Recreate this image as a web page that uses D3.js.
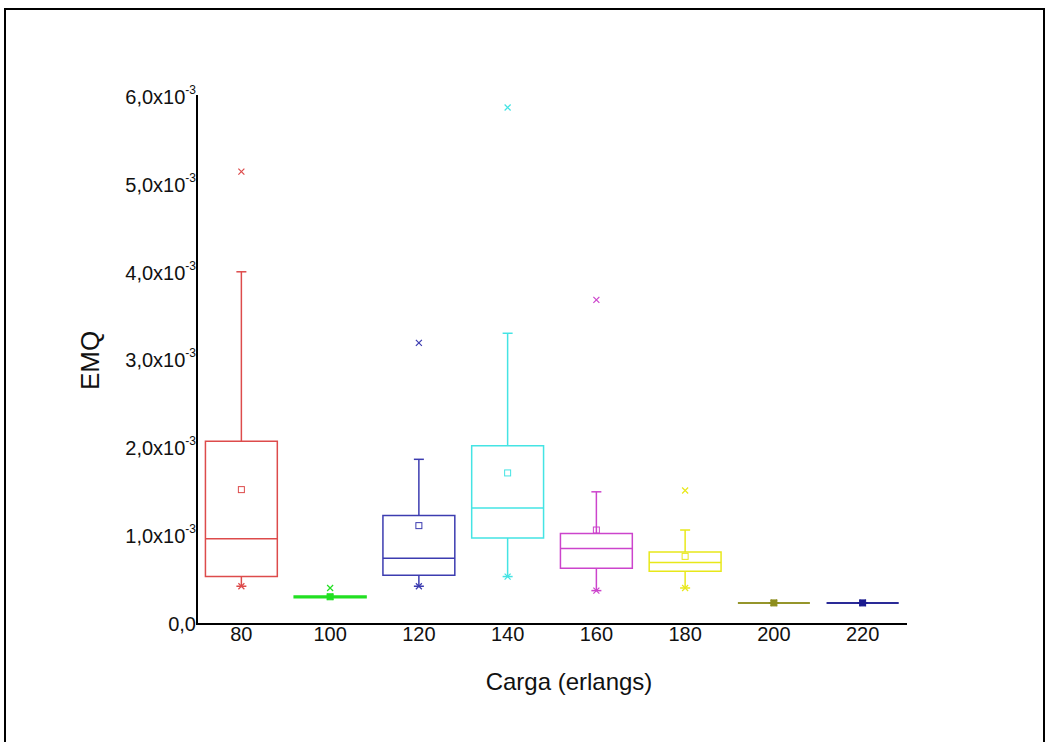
<!DOCTYPE html>
<html>
<head>
<meta charset="utf-8">
<script src="https://cdn.jsdelivr.net/npm/d3@7"></script>
<style>
  body { margin: 0; background: #fff; }
  svg { display: block; font-family: "Liberation Sans", Arial, sans-serif; }
</style>
</head>
<body>
<svg width="1048" height="742"></svg>
<script>
const svg = d3.select("svg");

// data (values in units of 1e-3)
const categories = ["80", "100", "120", "140", "160", "180", "200", "220"];
const whiskerLow = [0.43, 0.31, 0.43, 0.54, 0.38, 0.41, 0.24, 0.24];
const q1 = [0.54, 0.30, 0.555, 0.98, 0.635, 0.60, 0.24, 0.24];
const median = [0.97, 0.31, 0.75, 1.32, 0.86, 0.70, 0.24, 0.24];
const q3 = [2.08, 0.318, 1.235, 2.03, 1.03, 0.82, 0.24, 0.24];
const whiskerHigh = [4.01, 0.31, 1.875, 3.31, 1.505, 1.07, 0.24, 0.24];
const means = [1.53, 0.31, 1.12, 1.72, 1.07, 0.77, 0.24, 0.24];
const minVals = [0.43, 0.31, 0.43, 0.54, 0.38, 0.41, 0.24, 0.24];
const maxVals = [5.15, 0.41, 3.20, 5.88, 3.69, 1.52, 0.24, 0.24];
const colors = ["#dd4b4b", "#22e022", "#3c3cb0", "#44e4e4", "#cc44cc", "#e8e81a", "#8e8e1e", "#1c1c90"];
const yTicks = [0, 1, 2, 3, 4, 5, 6];

const boxes = categories.map((c, i) => ({
  cat: c, lo: whiskerLow[i], q1: q1[i], med: median[i], q3: q3[i],
  hi: whiskerHigh[i], mean: means[i], min: minVals[i], max: maxVals[i], color: colors[i]
}));

// outer frame
svg.append("rect")
  .attr("x", 5).attr("y", 9)
  .attr("width", 1039).attr("height", 800)
  .attr("fill", "none").attr("stroke", "#000").attr("stroke-width", 2);

const x = d3.scaleBand().domain(categories).range([197, 907]).paddingInner(0.19).paddingOuter(0.095);
const y = d3.scaleLinear().domain([0, 6]).range([624, 97]);

// axes
const yAxis = svg.append("g")
  .attr("transform", "translate(197,0)")
  .call(d3.axisLeft(y).tickValues(yTicks).tickSize(0).tickPadding(1));
yAxis.select(".domain").attr("stroke-width", 2).attr("d", `M0,${y(0) + 1}V${y(6) - 2}`);
yAxis.selectAll("text")
  .attr("font-size", 20).attr("fill", "#111").attr("font-family", "Liberation Sans, Arial, sans-serif")
  .each(function (d) {
    const t = d3.select(this).text("");
    if (d === 0) {
      t.append("tspan").text("0,0");
    } else {
      t.append("tspan").text(d3.format(".1f")(d).replace(".", ",") + "x10");
      t.append("tspan").attr("dy", -10).attr("font-size", 12).text("-3");
    }
  });

const xAxis = svg.append("g")
  .attr("transform", `translate(0,${y(0)})`)
  .call(d3.axisBottom(x).tickSize(0).tickPadding(3));
xAxis.select(".domain").attr("stroke-width", 2).attr("d", `M197,0H907`);
xAxis.selectAll("text")
  .attr("font-size", 20).attr("fill", "#111").attr("font-family", "Liberation Sans, Arial, sans-serif");

// axis titles
svg.append("text")
  .attr("transform", `translate(99,${y(3)}) rotate(-90)`)
  .attr("text-anchor", "middle")
  .attr("font-size", 26)
  .attr("fill", "#111")
  .text("EMQ");

svg.append("text")
  .attr("x", 569).attr("y", 690)
  .attr("text-anchor", "middle")
  .attr("font-size", 24)
  .attr("fill", "#111")
  .text("Carga (erlangs)");

// boxes
const g = svg.append("g");
const bw = x.bandwidth();
const capW = 10;

boxes.forEach(b => {
  const x0 = x(b.cat), x1 = x0 + bw, cx = x0 + bw / 2;
  const h = y(b.q1) - y(b.q3);
  const grp = g.append("g").attr("stroke", b.color).attr("fill", "none").attr("stroke-width", 1.5);

  // whiskers
  grp.append("line").attr("x1", cx).attr("x2", cx).attr("y1", y(b.q3)).attr("y2", y(b.hi));
  grp.append("line").attr("x1", cx).attr("x2", cx).attr("y1", y(b.q1)).attr("y2", y(b.lo));
  grp.append("line").attr("x1", cx - capW / 2).attr("x2", cx + capW / 2).attr("y1", y(b.hi)).attr("y2", y(b.hi));
  grp.append("line").attr("x1", cx - capW / 2).attr("x2", cx + capW / 2).attr("y1", y(b.lo)).attr("y2", y(b.lo));

  // box
  grp.append("path")
    .attr("d", `M${x0},${y(b.q3)}H${x1}V${y(b.q1)}H${x0}Z`)
    .attr("stroke-width", 1.5);
  grp.append("line").attr("x1", x0).attr("x2", x1).attr("y1", y(b.med)).attr("y2", y(b.med));

  // mean
  grp.append("rect")
    .attr("x", cx - 3).attr("y", y(b.mean) - 3)
    .attr("width", 6).attr("height", 6)
    .attr("stroke-width", 1)
    .attr("fill", h < 3 ? b.color : "none");

  // min / max crosses
  [b.min, b.max].forEach(v => {
    grp.append("path")
      .attr("d", `M${cx - 3},${y(v) - 3}L${cx + 3},${y(v) + 3}M${cx - 3},${y(v) + 3}L${cx + 3},${y(v) - 3}`)
      .attr("stroke-width", 1.2);
  });
});
</script>
</body>
</html>
